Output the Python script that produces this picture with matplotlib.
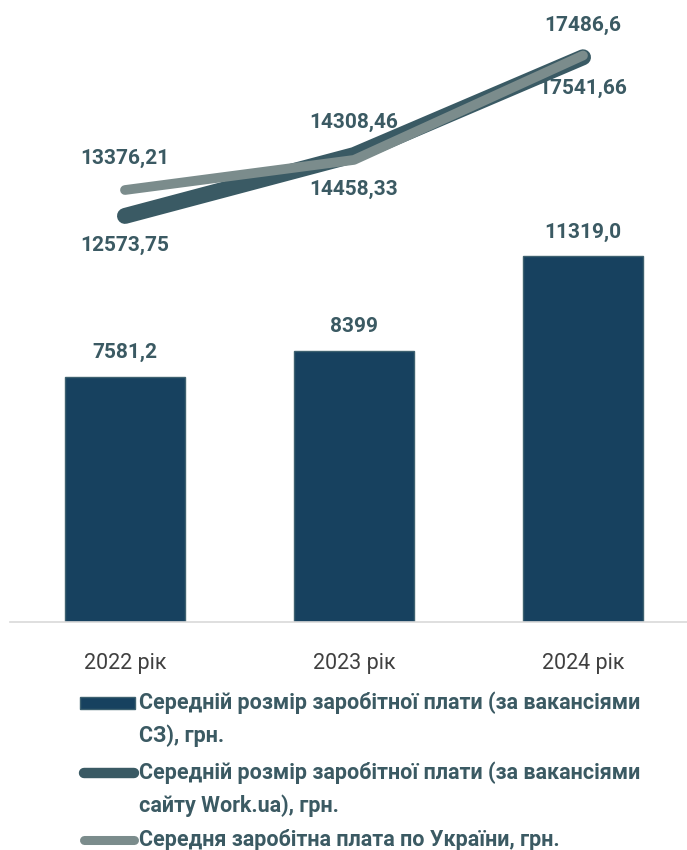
import numpy as np
import matplotlib
matplotlib.use("Agg")
import matplotlib.pyplot as plt
from matplotlib.patches import Rectangle
from matplotlib.lines import Line2D

plt.rcParams['font.family'] = ['Roboto', 'DejaVu Sans']

# data
years = ["2022 рік", "2023 рік", "2024 рік"]
sz_values = [7581.2, 8399, 11319.0]
sz_labels = ["7581,2", "8399", "11319,0"]
workua_values = [12573.75, 14458.33, 17486.6]
workua_labels = ["12573,75", "14458,33", "17486,6"]
ukraine_values = [13376.21, 14308.46, 17541.66]
ukraine_labels = ["13376,21", "14308,46", "17541,66"]

legend_texts = [
    "Середній розмір заробітної плати (за вакансіями\nСЗ), грн.",
    "Середній розмір заробітної плати (за вакансіями\nсайту Work.ua), грн.",
    "Середня заробітна плата по України, грн.",
]

# colours
bar_col = "#17415F"
bar_edge = "#3E6170"
dark_col = "#3A5A64"
gray_col = "#7B8C8C"
txt_col = "#3B5A63"

W, H = 687, 850
fig = plt.figure(figsize=(W / 100, H / 100), dpi=100)
ax = fig.add_axes([10 / W, 1 - 622 / H, 677 / W, 622 / H])

x = np.arange(len(years))
ax.bar(x, sz_values, width=0.528, color=bar_col, edgecolor=bar_edge,
       linewidth=1, zorder=2)
ax.plot(x, workua_values, color=dark_col, lw=11.5, solid_capstyle='round',
        solid_joinstyle='round', zorder=3)
ax.plot(x, ukraine_values, color=gray_col, lw=7, solid_capstyle='round',
        solid_joinstyle='round', zorder=4)

lab_kw = dict(textcoords='offset points', ha='center', va='center',
              fontsize=15, fontweight='bold', color=txt_col, zorder=5)
for xi, v, s in zip(x, sz_values, sz_labels):
    ax.annotate(s, (xi, v), xytext=(0, 17.5), **lab_kw)
for xi, v, s, off in zip(x, workua_values, workua_labels, [-21, -25, 23]):
    ax.annotate(s, (xi, v), xytext=(0, off), **lab_kw)
for xi, v, s, off in zip(x, ukraine_values, ukraine_labels, [23, 27, -24]):
    ax.annotate(s, (xi, v), xytext=(0, off), **lab_kw)

ax.set_xlim(-0.502, 2.454)
ax.set_ylim(0, 19260)
ax.set_xticks(x)
ax.set_xticklabels(years, fontsize=15.5, color="#404040")
ax.tick_params(axis='x', length=0, pad=22)
ax.set_yticks([])
for sp in ["top", "left", "right"]:
    ax.spines[sp].set_visible(False)
ax.spines["bottom"].set_color("#D9D9D9")
ax.spines["bottom"].set_linewidth(1.2)

# legend drawn by hand
def fx(px):
    return px / W

def fy(py):
    return 1 - py / H

fig.add_artist(Rectangle((fx(80), fy(709)), fx(135) - fx(80), 12 / H,
                         transform=fig.transFigure, facecolor=bar_col,
                         edgecolor=bar_edge, lw=1))
fig.add_artist(Line2D([fx(84), fx(134)], [fy(773), fy(773)],
                      transform=fig.transFigure, color=dark_col, lw=7.5,
                      solid_capstyle='round'))
fig.add_artist(Line2D([fx(84), fx(134)], [fy(840), fy(840)],
                      transform=fig.transFigure, color=gray_col, lw=6.5,
                      solid_capstyle='round'))
for ty, t in zip([703, 773, 840], legend_texts):
    for i, line in enumerate(t.split("\n")):
        fig.text(fx(139), fy(ty + 33 * i), line, ha='left', va='center',
                 fontsize=15.5, fontweight='bold', color=txt_col)

fig.savefig("out.png", dpi=100)
